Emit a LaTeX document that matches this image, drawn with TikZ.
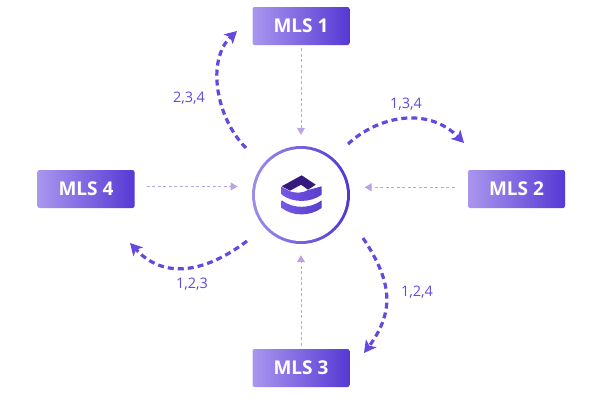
\documentclass[tikz,border=0pt]{standalone}
\usepackage{fontspec}
\setmainfont{Open Sans}
\usetikzlibrary{arrows.meta,calc}
\definecolor{boxL}{HTML}{A996EE}
\definecolor{boxR}{HTML}{5639D4}
\definecolor{flowC}{HTML}{6647E0}
\definecolor{thinC}{HTML}{B9A5E6}
\definecolor{ringL}{HTML}{A08CEC}
\definecolor{ringR}{HTML}{5135D2}
\definecolor{logoD}{HTML}{35197E}
\definecolor{logoA}{HTML}{7658E6}
\definecolor{logoB}{HTML}{5A3DCB}
\tikzset{
  mls/.style={rectangle,rounded corners=2pt,minimum width=97pt,minimum height=38pt,inner sep=0pt,
    left color=boxL,right color=boxR,text=white,font=\fontsize{19}{20}\selectfont\bfseries},
  flow/.style={draw=flowC,line width=3.2pt,dash pattern=on 6pt off 4pt,
    -{Stealth[length=12pt,width=13pt,inset=3pt,fill=flowC]}},
  thin/.style={draw=thinC,line width=1pt,dash pattern=on 3pt off 2.5pt,
    -{Triangle[length=7pt,width=8pt,fill=thinC]}},
  lab/.style={text=flowC,font=\fontsize{14.5}{16}\selectfont,inner sep=0pt},
}
\begin{document}
\begin{tikzpicture}[x=1pt,y=-1pt]
\useasboundingbox (0,0) rectangle (600,400);
\node[mls] (m1) at (301,26) {MLS 1};
\node[mls] (m2) at (516.5,189) {MLS 2};
\node[mls] (m3) at (301,368) {MLS 3};
\node[mls] (m4) at (86,189) {MLS 4};
\node[circle,minimum size=98pt,inner sep=0pt,left color=ringL,right color=ringR] (hub) at (301,195) {};
\node[circle,minimum size=92pt,inner sep=0pt,fill=white] (hubin) at (301,195) {};
% logo
\shade[left color=logoA,right color=logoB] (281.7,187) -- (290,191.3) .. controls (296,193.5) and (303,193) .. (308,190) -- (321.7,186.3) -- (321.7,194.7) .. controls (310,203) and (293,203) .. (281.7,194.7) -- cycle;
\shade[left color=logoA,right color=logoB] (281.7,200.3) .. controls (293,209) and (310,209) .. (321.7,200.3) -- (321.7,208) .. controls (310,216.5) and (293,216.5) .. (281.7,208) -- cycle;
\fill[logoD] (301.7,175.3) -- (315.7,184.7) -- (308,189.7) -- (301,184.7) -- (290,190.7) -- (281.7,186.3) -- cycle;
% thin connectors
\draw[thin,shorten <=3pt,shorten >=11pt] (m1.south) -- (hub.north);
\draw[thin,shorten <=13pt,shorten >=15pt] (m2.west |- hub.9.5) -- (hub.9.5);
\draw[thin,shorten <=3pt,shorten >=11pt] (m3.north) -- (hub.south);
\draw[thin,shorten <=12pt,shorten >=15pt] (m4.east |- hub.170.5) -- (hub.170.5);
% flows
\coordinate (s1) at (246,148);
\coordinate (e1) at (237,31);
\coordinate (s2) at (348,144);
\coordinate (e2) at (464,143);
\coordinate (s3) at (363,238);
\coordinate (e3) at (364,353);
\coordinate (s4) at (247,241);
\coordinate (e4) at (130,243);
\draw[flow] (s1) .. controls (216,118) and (206,60) .. (e1);
\draw[flow] (s2) .. controls (378,116) and (428,106) .. (e2);
\draw[flow] (s3) .. controls (391,280) and (396,310) .. (e3);
\draw[flow] (s4) .. controls (213,267) and (168,284) .. (e4);
\node[lab] (l1) at (189,98) {2,3,4};
\node[lab] (l2) at (406,104) {1,3,4};
\node[lab] (l3) at (417,292) {1,2,4};
\node[lab] (l4) at (192,284) {1,2,3};
\end{tikzpicture}
\end{document}
